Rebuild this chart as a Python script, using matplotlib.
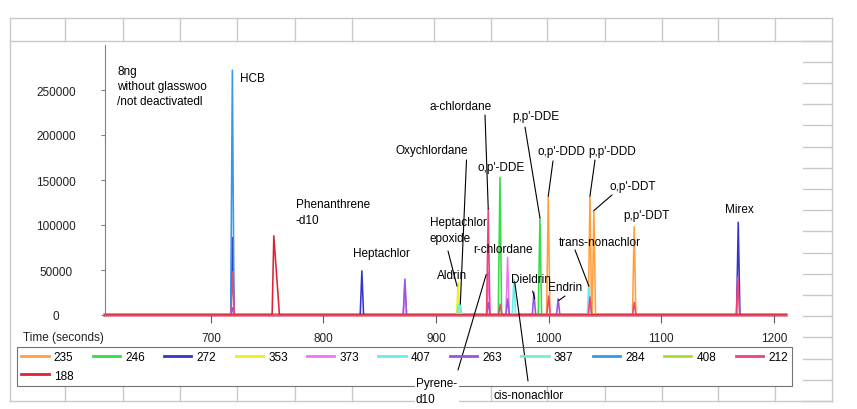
import matplotlib
matplotlib.use("Agg")
import matplotlib.pyplot as plt
from matplotlib.lines import Line2D

plt.rcParams['font.family'] = ['Liberation Sans', 'DejaVu Sans']
plt.rcParams['font.size'] = 8.5

W, H = 857, 410

# ---------------- data ----------------
series_names = ['235', '246', '272', '353', '373', '407', '263', '387', '284', '408', '212', '188']
series_colors = ['#FFA040', '#33DD44', '#3535CC', '#EEEE22', '#EE77EE', '#66EEEE',
                 '#9955DD', '#77EECC', '#3399EE', '#AADD33', '#EE4477', '#DD2233']

t_235 = [999.6, 1036.6, 1040.1, 1075.9]
h_235 = [132000, 132000, 116000, 98000]
t_246 = [956.7, 992.2]
h_246 = [153000, 108000]
t_272 = [719.2, 834.1, 1168.3]
h_272 = [86000, 49000, 103000]
t_353 = [919.6]
h_353 = [36000]
t_373 = [872.3, 946.3, 963.5]
h_373 = [34000, 48000, 64000]
t_407 = [919.9, 969.1, 1035.7]
h_407 = [12000, 40000, 32000]
t_263 = [719.5, 872.3, 946.3, 963.5, 986.9, 1008.4]
h_263 = [8000, 40000, 14000, 18000, 25000, 18000]
t_387 = [921.5, 1036.0]
h_387 = [12000, 18000]
t_284 = [719.1]
h_284 = [272000]
t_408 = []
h_408 = []
t_212 = [719.4, 946.3, 957.0, 999.9, 1036.6, 1075.9, 1168.0]
h_212 = [48000, 118000, 12000, 21000, 20000, 14000, 42000]
t_188 = [755.9]
h_188 = [88000]

peak_t = [t_235, t_246, t_272, t_353, t_373, t_407, t_263, t_387, t_284, t_408, t_212, t_188]
peak_h = [h_235, h_246, h_272, h_353, h_373, h_407, h_263, h_387, h_284, h_408, h_212, h_188]

t_start, t_end = 606.0, 1210.7
y_ticks = [0, 50000, 100000, 150000, 200000, 250000]
x_ticks = [700, 800, 900, 1000, 1100, 1200]

note_text = "8ng\nwithout glasswoo\n/not deactivatedl"

# compound labels: text, target time, target height (None = no leader)
label_text = ["HCB", "Phenanthrene\n-d10", "Heptachlor", "Oxychlordane", "a-chlordane",
              "o,p'-DDE", "p,p'-DDE", "o,p'-DDD", "p,p'-DDD", "o,p'-DDT", "p,p'-DDT",
              "Mirex", "trans-nonachlor", "Endrin", "Dieldrin", "Aldrin",
              "Heptachlor\nepoxide", "r-chlordane", "Pyrene-\nd10", "cis-nonachlor"]
label_tt = [None, None, None, 921.5, 946.3, None, 992.2, 999.6, 1036.6, 1040.1, None,
            None, 1035.7, 1008.8, 987.5, None, 918.6, None, 944.5, 969.8]
label_th = [None, None, None, 12000, 118000, None, 108000, 132000, 132000, 116000, None,
            None, 32000, 16000, 18000, None, 32000, None, 45000, 37000]

# ---------------- layout (pixels, y from top) ----------------
label_pos = [(240, 79), (296, 213), (353, 254), (396, 151), (430, 107), (477, 168),
             (512, 117), (537, 152), (588, 152), (610, 187), (623, 216), (725, 210),
             (559, 243), (548, 288), (511, 280), (437, 276), (430, 231), (473, 250),
             (416, 392), (493, 396)]
leader_start = [None, None, None, (466.5, 161), (485, 116), None, (525, 128), (553, 162),
                (595, 161), (612, 196), None, None, (575, 251), (565, 297), (532.7, 292),
                None, (448, 252), None, (458, 371), (528, 382)]

fig = plt.figure(figsize=(W / 100, H / 100), dpi=100)
fig.patch.set_facecolor('white')


def ff(x, y):
    """pixel (from top-left) -> figure fraction"""
    return (x / W, (H - y) / H)


def fpx(x, y):
    """pixel (from top-left) -> figure pixels"""
    return (x, H - y)


# spreadsheet background grid
bg = fig.add_axes([0, 0, 1, 1], zorder=-10)
bg.set_xlim(0, W)
bg.set_ylim(H, 0)
bg.axis('off')
gc = '#C9C9C9'
cols = [65.5, 122.7, 180, 237.3, 294.7, 351.7, 434, 490.7, 547.3, 604.7, 661.7, 718.3, 775.3]
for yy in (19.3, 41.5, 401.5):
    bg.plot([10, 832], [yy, yy], color=gc, lw=1)
for xx in (10, 832):
    bg.plot([xx, xx], [19.3, 401.5], color=gc, lw=1)
for xx in cols:
    bg.plot([xx, xx], [19.3, 41.5], color=gc, lw=1)
    bg.plot([xx, xx], [388, 401.5], color=gc, lw=1)
for k in range(18):
    yy = 41.5 + k * 21.2
    bg.plot([803, 832], [yy, yy], color=gc, lw=1)

# main chart axes
ax_l, ax_r, ax_t, ax_b = 105, 786, 46, 316
ax = fig.add_axes([ax_l / W, (H - ax_b) / H, (ax_r - ax_l) / W, (ax_b - ax_t) / H])
ax.patch.set_alpha(0)
ax.set_xlim(t_start, t_end)
ax.set_ylim(0, 300000)

ax.axhline(0, color='#E07088', lw=2.6, zorder=1, clip_on=False)
handles = []
for name, col, ts, hs in zip(series_names, series_colors, peak_t, peak_h):
    tail = 5.0 if name == '188' else 1.5
    xs, ys = [t_start], [0]
    for t, h in sorted(zip(ts, hs)):
        xs += [t - 1.5, t, t + tail]
        ys += [0, h, 0]
    xs.append(t_end)
    ys.append(0)
    ax.plot(xs, ys, color=col, lw=1.15, clip_on=False, zorder=2)
    handles.append(Line2D([], [], color=col, lw=2))

for s in ('top', 'right'):
    ax.spines[s].set_visible(False)
ax.spines['left'].set_color('#808080')
ax.spines['bottom'].set_color('#808080')
ax.set_yticks(y_ticks)
ax.set_yticklabels([str(v) for v in y_ticks])
ax.set_xticks(x_ticks)
ax.set_xticklabels([str(v) for v in x_ticks])
ax.tick_params(axis='y', length=3, color='#808080', pad=32.4, labelcolor='#222222')
ax.tick_params(axis='x', length=6, color='#606060', pad=6.5, labelcolor='#222222')
for lab in ax.get_yticklabels():
    lab.set_horizontalalignment('center')

fig.text(*ff(63, 338), "Time (seconds)", ha='center', va='center', color='#222222')
fig.text(*ff(117, 87), note_text, ha='left', va='center', linespacing=1.35)

for txt, tt, th, pos, ls in zip(label_text, label_tt, label_th, label_pos, leader_start):
    kw = {}
    z = 4
    if txt.startswith('Pyrene'):
        kw['bbox'] = dict(facecolor='white', edgecolor='none', pad=1)
        z = 10
    fig.text(*ff(*pos), txt, ha='left', va='center', linespacing=1.45, zorder=z, **kw)
    if tt is not None:
        ax.annotate('', xy=(tt, th), xycoords='data', xytext=fpx(*ls),
                    textcoords='figure pixels',
                    arrowprops=dict(arrowstyle='-', lw=0.8, color='black',
                                    shrinkA=0, shrinkB=0))

# legend: 235 and 188 share first column
order = [0, 11] + list(range(1, 11))
leg = fig.legend([handles[i] for i in order], [series_names[i] for i in order],
                 ncol=11, loc='upper left', mode='expand',
                 bbox_to_anchor=(17.3 / W, (H - 386) / H, (792 - 17.3) / W, (386 - 348) / H),
                 frameon=True, fancybox=False, edgecolor='#505050', facecolor='none',
                 handlelength=2.3, handletextpad=0.45, borderpad=0.35,
                 labelspacing=0.55, borderaxespad=0)
leg.get_frame().set_linewidth(0.8)
leg.set_zorder(5)

fig.savefig('out.png', dpi=100)
